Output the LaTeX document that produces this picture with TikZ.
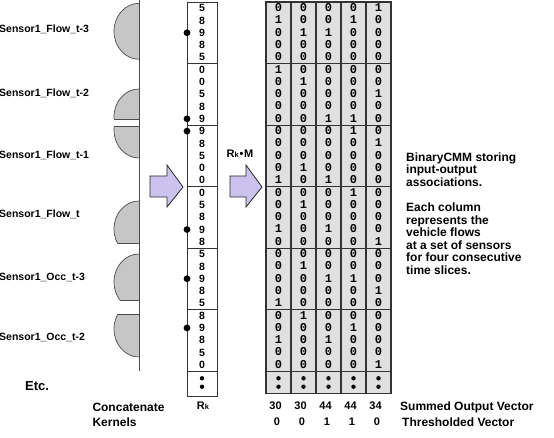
\documentclass[tikz,border=0pt]{standalone}
\usepackage{fontspec}
\setmainfont{Liberation Sans}
\newfontfamily\monofnt{Liberation Mono}
\definecolor{lav}{HTML}{CBC3EE}
\definecolor{sensgray}{HTML}{C6C6C6}
\definecolor{colgray}{HTML}{E0E0E0}
\begin{document}
\begin{tikzpicture}[x=1pt,y=-1pt,
  lbl/.style={font=\bfseries\fontsize{10.5}{12}\selectfont, anchor=west, inner sep=0, text height=7.6, text depth=0},
  biglbl/.style={font=\bfseries\fontsize{12}{14.7}\selectfont, anchor=west, inner sep=0, text height=8.6, text depth=0},
  digit/.style={font=\bfseries\fontsize{10.5}{11}\selectfont, inner sep=0},
  bit/.style={font=\monofnt\bfseries\fontsize{12}{12}\selectfont, inner sep=0},
  sumnum/.style={font=\bfseries\fontsize{11}{12}\selectfont, inner sep=0, text height=7.9, text depth=0},
  sensor/.style={fill=sensgray, draw=black!70, line width=0.7},
  sensline/.style={draw=black!70, line width=0.7},
  blockarrow/.style={fill=lav, draw=black!85, line width=0.8},
  frame/.style={draw=black!80, line width=0.8},
  colbox/.style={fill=colgray, draw=black!80, line width=1.1},
  peak/.style={fill=black},
]
\useasboundingbox (0,0) rectangle (554,438);

% sensor labels
\node[lbl] (s1) at (-1,29) {Sensor1\_Flow\_t-3};
\node[lbl] (s2) at (-1,92.3) {Sensor1\_Flow\_t-2};
\node[lbl] (s3) at (-1,155) {Sensor1\_Flow\_t-1};
\node[lbl] (s4) at (-1,213.3) {Sensor1\_Flow\_t};
\node[lbl] (s5) at (-1,276.7) {Sensor1\_Occ\_t-3};
\node[lbl] (s6) at (-1,336.7) {Sensor1\_Occ\_t-2};
\node[biglbl, font=\bfseries\fontsize{13}{14}\selectfont] (etc) at (25,386) {Etc.};
\node[biglbl] (conc) at (92.3,407.3) {Concatenate};
\node[biglbl] (kern) at (92.3,422) {Kernels};

% sensor half circles
\begin{scope}
 \clip (100,0) rectangle (139,70);
 \filldraw[sensor] (139,31.3) ellipse [x radius=25, y radius=28];
\end{scope}
\begin{scope}
 \clip (100,80) rectangle (139,119);
 \filldraw[sensor] (139,117) ellipse [x radius=25, y radius=28];
\end{scope}
\draw[sensline] (114.1,119) -- (139,119);
\begin{scope}
 \clip (100,126.7) rectangle (139,170);
 \filldraw[sensor] (139,130) ellipse [x radius=25, y radius=28];
\end{scope}
\draw[sensline] (114.2,126.7) -- (139,126.7);
\begin{scope}
 \clip (100,190) rectangle (139,243.3);
 \filldraw[sensor] (139,229) ellipse [x radius=25, y radius=28];
\end{scope}
\draw[sensline] (117.5,243.3) -- (139,243.3);
\begin{scope}
 \clip (100,250) rectangle (139,300);
 \filldraw[sensor] (139,282) ellipse [x radius=25, y radius=28];
\end{scope}
\draw[sensline] (119.85,300) -- (139,300);
\begin{scope}
 \clip (100,314) rectangle (139,370);
 \filldraw[sensor] (139,329) ellipse [x radius=25, y radius=28];
\end{scope}
\draw[sensline] (117.9,314) -- (139,314);

% vertical line
\coordinate (vtop) at (139,0);
\coordinate (vbot) at (139,371);
\draw[draw=black!70, line width=0.8] (vtop) -- (vbot);

% block arrows
\draw[blockarrow] (150,176) -- (167,176) -- (167,165) -- (183,187) -- (167,207) -- (167,197) -- (150,197) -- cycle;
\draw[blockarrow] (230,176) -- (246,176) -- (246,165) -- (262,187) -- (246,207) -- (246,197) -- (230,197) -- cycle;
\node[font=\bfseries\fontsize{11}{12}\selectfont, anchor=west, inner sep=0, text height=7.9, text depth=0] (rkm) at (226.5,153.3)
  {R{\fontsize{7.5}{8}\selectfont k}\kern0.8pt\textbullet\kern0.6pt M};

% Rk column
\draw[frame] (187,2) rectangle (217,396);
\foreach \yy in {63.5,125,186.5,248,309.5,371}
  \draw[frame] (187,\yy) -- (217,\yy);
\foreach \d [count=\k from 0] in {5,8,9,8,5, 0,0,5,8,9, 9,8,5,0,0, 0,5,8,9,8, 5,8,9,8,5, 8,9,8,5,0}{
  \pgfmathsetmacro\yy{8.15+12.3*\k}
  \node[digit] (rk-\k) at (202,\yy) {\d};
}
\foreach \k in {2,9,10,18,22,26}{
  \pgfmathsetmacro\yy{8.15+12.3*\k}
  \fill[peak] (187,\yy) circle (3.4);
}
\fill (202,378.3) circle (2.2);
\fill (202,386.7) circle (2.2);
\node[font=\bfseries\fontsize{11}{12}\selectfont, inner sep=0, text height=7.9, text depth=0] (rklbl) at (203,406)
  {R{\fontsize{7.5}{8}\selectfont k}};

% matrix columns
\foreach \i in {0,...,4}{
  \filldraw[colbox] (266+25*\i,2) rectangle (291+25*\i,393.5);
}
\foreach \yy in {63.5,125,186.5,248,309.5,371}
  \draw[frame] (266,\yy) -- (391,\yy);
\foreach \rowlist [count=\k from 0] in {
  {0,0,0,0,1},{1,0,0,1,0},{0,1,1,0,0},{0,0,0,0,0},{0,0,0,0,0},
  {1,0,0,0,0},{0,1,0,0,0},{0,0,0,0,1},{0,0,0,0,0},{0,0,1,1,0},
  {0,0,0,1,0},{0,0,0,0,1},{0,0,0,0,0},{0,1,0,0,0},{1,0,1,0,0},
  {0,0,0,1,0},{0,1,0,0,0},{0,0,0,0,0},{1,0,1,0,0},{0,0,0,0,1},
  {0,0,0,0,0},{0,1,0,0,0},{0,0,1,1,0},{0,0,0,0,1},{1,0,0,0,0},
  {0,1,0,0,0},{0,0,0,1,0},{1,0,1,0,0},{0,0,0,0,0},{0,0,0,0,1}}{
  \pgfmathsetmacro\yy{7.6+12.3*\k}
  \foreach \b [count=\c from 0] in \rowlist {
    \pgfmathsetmacro\xx{278.5+25*\c}
    \node[bit] (m-\k-\c) at (\xx,\yy) {\b};
  }
}
\foreach \c in {0,...,4}{
  \fill (278.5+25*\c,378.3) circle (2.2);
  \fill (278.5+25*\c,386.7) circle (2.2);
}

% summed and thresholded vectors
\foreach \v [count=\c from 0] in {30,30,44,44,34}{
  \node[sumnum] (sum-\c) at (275.5+25*\c,406) {\v};
}
\foreach \v [count=\c from 0] in {0,0,1,1,0}{
  \node[sumnum] (thr-\c) at (277+25*\c,421.7) {\v};
}
\node[biglbl] (sumlbl) at (400,406) {Summed Output Vector};
\node[biglbl] (thrlbl) at (402,421.7) {Thresholded Vector};

% description
\node[font=\bfseries\fontsize{12}{12.6}\selectfont, anchor=north west, inner sep=0, align=left] (desc) at (406,152.3)
  {BinaryCMM storing\\input-output\\associations.\\[12.6pt]Each column\\represents the\\vehicle flows\\at a set of sensors\\for four consecutive\\time slices.};
\end{tikzpicture}
\end{document}
